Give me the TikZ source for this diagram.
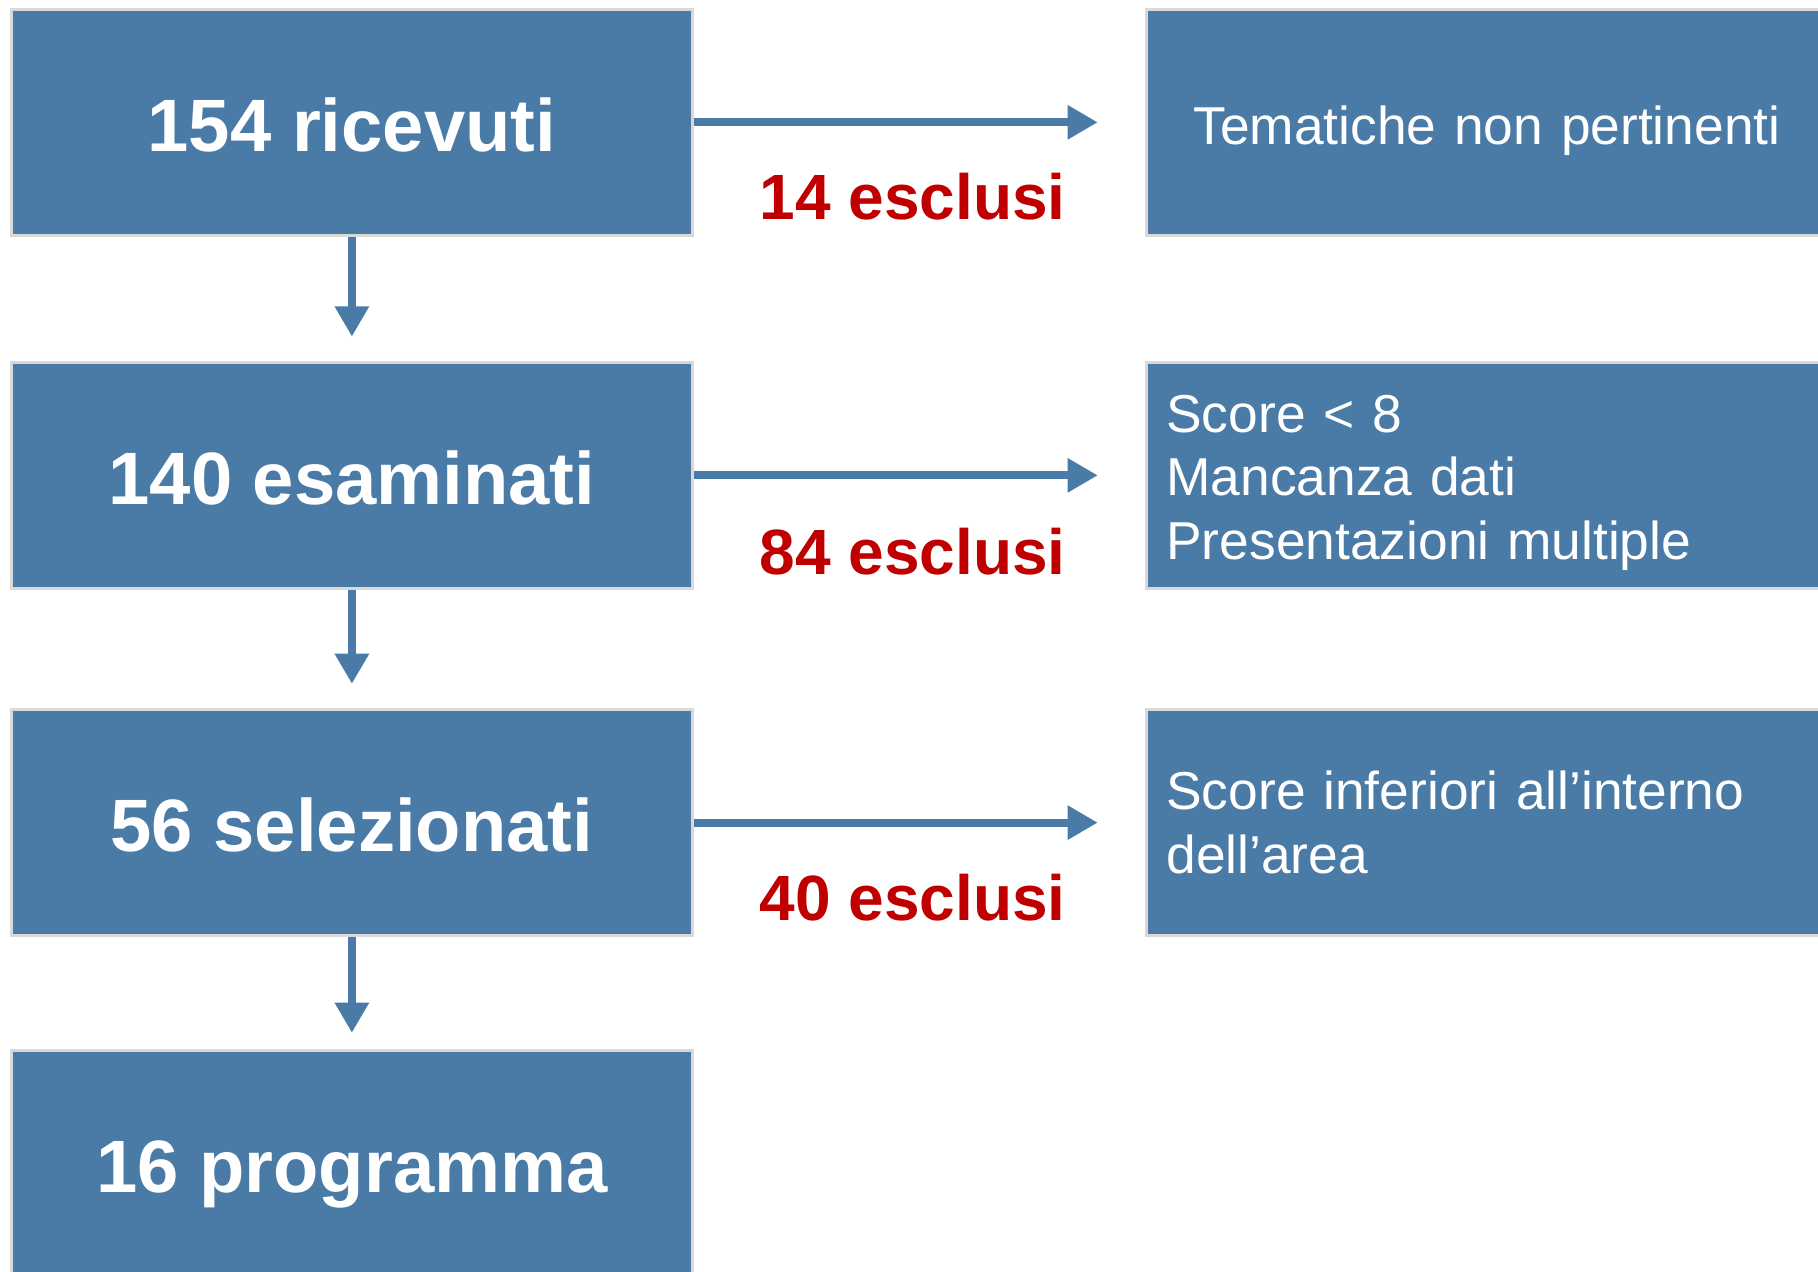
\documentclass[tikz,border=0pt]{standalone}
\usepackage{fontspec}
\setmainfont{Liberation Sans}
\usetikzlibrary{arrows.meta}
\definecolor{boxblue}{RGB}{74,123,167}
\definecolor{boxline}{RGB}{217,217,217}
\definecolor{exred}{RGB}{192,0,0}

\begin{document}
\begin{tikzpicture}[x=0.5pt,y=-0.5pt,
  stage/.style={fill=boxblue,draw=boxline,line width=1.2pt,minimum width=293.5pt,minimum height=97.5pt,inner sep=0pt,text height=25pt,text depth=0pt,text=white,font=\fontsize{32}{38}\selectfont\bfseries},
  reason/.style={fill=boxblue,draw=boxline,line width=1.2pt,minimum height=97.5pt,text width=276.5pt,inner xsep=8.5pt,inner ysep=0pt,text=white,font=\fontsize{23}{27.5}\selectfont},
  flow/.style={draw=boxblue,line width=3.5pt,-{Triangle[length=13pt,width=14pt]}},
  excl/.style={text=exred,inner sep=0pt,font=\fontsize{27.6}{32}\selectfont\bfseries}]
\useasboundingbox (0,0) rectangle (1568,1097);
\clip (0,0) rectangle (1568,1097);

\node[stage] (b1) at (303.5,105.5) {154 ricevuti};
\node[stage] (b2) at (303.5,410) {140 esaminati};
\node[stage] (b3) at (303.5,709.5) {56 selezionati};
\node[stage] (b4) at (303.5,1003.5) {16 programma};

\node[reason,align=center,text height=19.5pt,text depth=0pt] (r1) at (1282.5,105.5) {Tematiche non pertinenti};
\node[reason,align=left] (r2) at (1282.5,410) {\rule{0pt}{22.5pt}Score < 8\\Mancanza dati\\Presentazioni multiple};
\node[reason,align=left] (r3) at (1282.5,709.5) {Score inferiori all’interno\\dell’area};

\draw[flow,shorten >=20.5pt] (b1.east) -- node[excl,pos=0.485,below=20pt] (l1) {14 esclusi} (r1.west);
\draw[flow,shorten >=20.5pt] (b2.east) -- node[excl,pos=0.485,below=21pt] (l2) {84 esclusi} (r2.west);
\draw[flow,shorten >=20.5pt] (b3.east) -- node[excl,pos=0.485,below=20.5pt] (l3) {40 esclusi} (r3.west);

\draw[flow,shorten >=10.5pt] (b1.south) -- (b2.north);
\draw[flow,shorten >=10.5pt] (b2.south) -- (b3.north);
\draw[flow,shorten >=7pt] (b3.south) -- (b4.north);
\end{tikzpicture}
\end{document}
